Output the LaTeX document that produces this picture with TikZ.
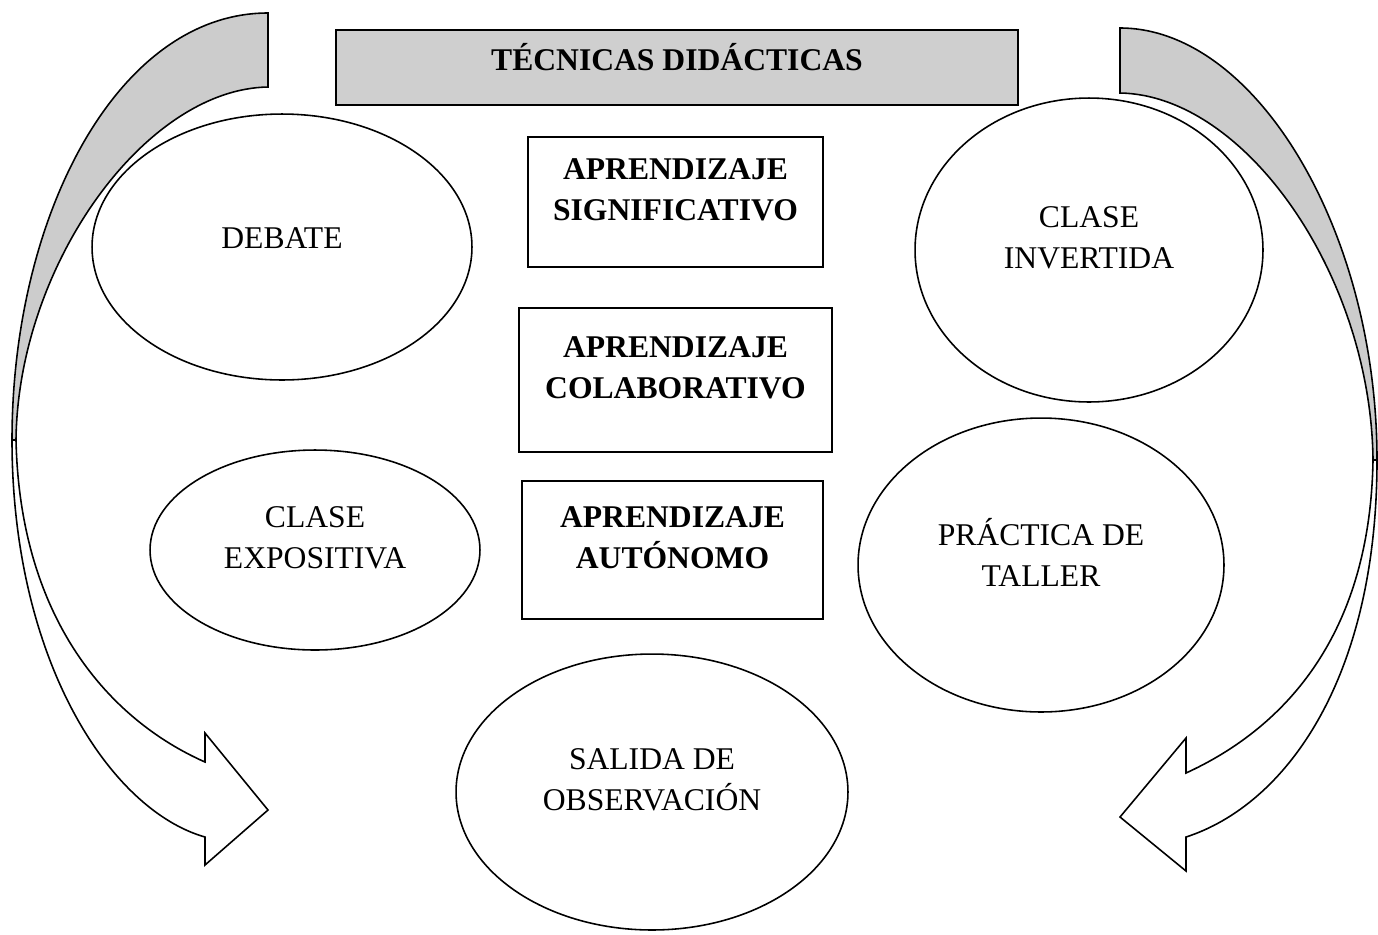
\documentclass[tikz,border=0pt]{standalone}
\usepackage{fontspec}
\setmainfont{Liberation Serif}
\usetikzlibrary{shapes.geometric}

\begin{document}
\begin{tikzpicture}[x=0.02cm, y=-0.02cm, line width=0.9pt,
	tecnica/.style={ellipse, draw, fill=white, inner sep=0pt, align=center, text depth=0.5cm},
	enfoque/.style={rectangle, draw, fill=white, inner sep=0pt, align=center, font=\bfseries, text depth=0.5cm}]
	%%%%% START %%%%%
	\useasboundingbox (0, 0) rectangle (1378, 934);
	\fontsize{18}{23.5}\selectfont
	
	% flecha izquierda
	\draw[fill=white] (12, 440) .. controls (12, 660) and (110, 810) .. (205, 837) -- (205, 865) -- (268, 810) -- (205, 733) -- (205, 762) .. controls (110, 720) and (20, 620) .. (16, 440) -- cycle;
	\draw[fill=black!20] (268, 13) -- (268, 87) .. controls (145, 89) and (18, 265) .. (16, 440) -- (12, 440) .. controls (12, 215) and (118, 13) .. (268, 13) -- cycle;
	
	% flecha derecha
	\draw[fill=white] (1377, 460) .. controls (1377, 680) and (1285, 805) .. (1186, 837) -- (1186, 871) -- (1120, 817) -- (1186, 738) -- (1186, 773) .. controls (1280, 730) and (1370, 640) .. (1373, 460) -- cycle;
	\draw[fill=black!20] (1120, 28) -- (1120, 93) .. controls (1245, 95) and (1371, 275) .. (1373, 460) -- (1377, 460) .. controls (1377, 230) and (1255, 28) .. (1120, 28) -- cycle;
	
	% titulo
	\node[enfoque, fill=black!19, minimum width=13.64cm, minimum height=1.5cm, text depth=0.42cm] (titulo) at (677, 67.5) {T\'ECNICAS DID\'ACTICAS};
	
	% aprendizajes
	\node[enfoque, minimum width=5.9cm, minimum height=2.6cm] (significativo) at (675.5, 202) {APRENDIZAJE\\SIGNIFICATIVO};
	\node[enfoque, minimum width=6.26cm, minimum height=2.88cm] (colaborativo) at (675.5, 380) {APRENDIZAJE\\COLABORATIVO};
	\node[enfoque, minimum width=6.02cm, minimum height=2.76cm] (autonomo) at (672.5, 550) {APRENDIZAJE\\AUT\'ONOMO};
	
	% tecnicas
	\node[tecnica, minimum width=7.6cm, minimum height=5.32cm, text depth=0.35cm] (debate) at (282, 247) {DEBATE};
	\node[tecnica, minimum width=6.96cm, minimum height=6.08cm] (invertida) at (1089, 250) {CLASE\\INVERTIDA};
	\node[tecnica, minimum width=6.6cm, minimum height=4cm] (expositiva) at (315, 550) {CLASE\\EXPOSITIVA};
	\node[tecnica, minimum width=7.32cm, minimum height=5.88cm] (taller) at (1041, 565) {PR\'ACTICA DE\\TALLER};
	\node[tecnica, minimum width=7.84cm, minimum height=5.52cm] (salida) at (652, 792) {SALIDA DE\\OBSERVACI\'ON};
	
	%%%%% END %%%%%
\end{tikzpicture}
\end{document}
